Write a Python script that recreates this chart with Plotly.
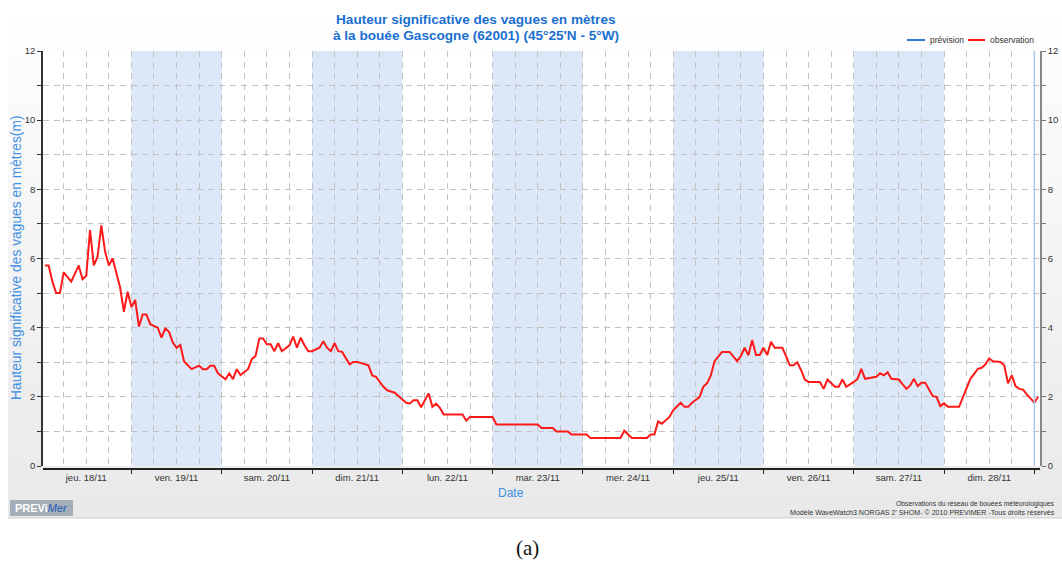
import pandas as pd
import plotly.graph_objects as go

# Observations horaires (heures depuis le 18/11/2010 00:00) et hauteur significative (m)
heures = [1, 2, 3, 4, 5, 6, 8, 10, 11, 12, 13, 14, 15, 16, 17, 18, 19, 20, 21, 22,
          23, 24, 25, 26, 27, 28, 29, 31, 32, 33, 34, 35, 36, 37, 38, 40, 42, 43, 44, 45,
          46, 47, 49, 50, 51, 52, 53, 55, 56, 57, 58, 59, 60, 61, 62, 63, 64, 66, 67, 68,
          69, 70, 71, 72, 74, 75, 76, 77, 78, 79, 80, 82, 83, 84, 86, 87, 88, 89, 91, 92,
          94, 96, 97, 98, 99, 100, 101, 102, 103, 104, 105, 106, 107, 112, 113, 114, 120, 121, 132, 133,
          136, 137, 140, 141, 145, 146, 154, 155, 156, 157, 161, 162, 163, 164, 165, 167, 168, 169, 170, 171,
          172, 173, 175, 176, 177, 178, 179, 181, 183, 185, 186, 187, 188, 189, 190, 191, 192, 193, 194, 195,
          197, 198, 199, 200, 201, 202, 203, 204, 207, 208, 209, 211, 212, 213, 214, 216, 217, 218, 219, 222,
          223, 224, 225, 226, 228, 229, 230, 231, 232, 233, 234, 235, 237, 238, 239, 240, 241, 244, 245, 247,
          249, 250, 251, 252, 253, 255, 256, 257, 258, 259, 260, 261, 262, 264, 265]
hauteur = [5.80, 5.80, 5.33, 5.00, 5.00, 5.60, 5.33, 5.80, 5.40, 5.50, 6.82, 5.80, 6.05, 6.96, 6.20, 5.80, 6.00, 5.57, 5.16, 4.46,
           5.04, 4.60, 4.80, 4.03, 4.38, 4.38, 4.10, 4.00, 3.71, 3.98, 3.88, 3.57, 3.42, 3.50, 3.02, 2.80, 2.90, 2.80, 2.80, 2.90,
           2.90, 2.68, 2.51, 2.68, 2.51, 2.80, 2.63, 2.80, 3.09, 3.18, 3.69, 3.69, 3.52, 3.52, 3.32, 3.55, 3.32, 3.49, 3.74, 3.42,
           3.71, 3.49, 3.32, 3.32, 3.42, 3.61, 3.42, 3.32, 3.55, 3.32, 3.30, 2.94, 3.01, 3.01, 2.94, 2.91, 2.62, 2.58, 2.29, 2.19,
           2.12, 1.94, 1.83, 1.81, 1.90, 1.90, 1.70, 1.90, 2.10, 1.71, 1.80, 1.68, 1.49, 1.49, 1.31, 1.42, 1.42, 1.20, 1.20, 1.10,
           1.10, 1.00, 1.00, 0.91, 0.91, 0.81, 0.81, 1.02, 0.91, 0.81, 0.81, 0.91, 0.91, 1.29, 1.22, 1.42, 1.61, 1.71, 1.83, 1.71,
           1.71, 1.83, 1.99, 2.29, 2.39, 2.62, 3.03, 3.30, 3.30, 3.03, 3.18, 3.42, 3.20, 3.64, 3.21, 3.21, 3.42, 3.21, 3.59, 3.42,
           3.42, 3.18, 2.91, 2.91, 3.00, 2.77, 2.50, 2.43, 2.43, 2.23, 2.50, 2.29, 2.29, 2.50, 2.29, 2.43, 2.52, 2.81, 2.52, 2.58,
           2.68, 2.62, 2.71, 2.52, 2.50, 2.36, 2.23, 2.33, 2.52, 2.31, 2.41, 2.41, 2.02, 2.00, 1.73, 1.81, 1.71, 1.71, 1.97, 2.52,
           2.81, 2.84, 2.94, 3.11, 3.03, 3.01, 2.91, 2.39, 2.62, 2.31, 2.23, 2.21, 2.07, 1.83, 2.00]

jours = ["jeu. 18/11", "ven. 19/11", "sam. 20/11", "dim. 21/11", "lun. 22/11", "mar. 23/11",
         "mer. 24/11", "jeu. 25/11", "ven. 26/11", "sam. 27/11", "dim. 28/11"]
jours_ombres = [1, 3, 5, 7, 9]

debut = pd.Timestamp("2010-11-18 00:00")
temps = debut + pd.to_timedelta(heures, unit="h")
midis = [debut + pd.Timedelta(days=i, hours=12) for i in range(len(jours))]
minuits = [debut + pd.Timedelta(days=i) for i in range(len(jours) + 1)]
x_min = debut + pd.Timedelta(hours=0.5)
x_max = debut + pd.Timedelta(hours=265.5)
maintenant = debut + pd.Timedelta(days=11)

W, H = 1062, 561
ML, MR, MT, MB = 43, 22, 51, 92
PW, PH = W - ML - MR, H - MT - MB


def fx(p):
    return (p - ML) / PW


def fy(p):
    return (H - MB - p) / PH


FONT = "Liberation Sans, Arial, sans-serif"
BLEU = "#1b6fd1"
GRILLE = "#c2c2c2"

fig = go.Figure()

fig.add_trace(go.Scatter(x=temps, y=hauteur, mode="lines", name="observation",
                         line=dict(color="#ff1a1a", width=2), showlegend=False,
                         xaxis="x", yaxis="y"))
fig.add_trace(go.Scatter(x=[], y=[], mode="lines", name="prévision",
                         line=dict(color="#2c7bd0", width=2), showlegend=False,
                         xaxis="x2", yaxis="y2"))

shapes = []
# fond dégradé du cadre
n = 26
for i in range(n):
    y0 = i * 518 / n
    y1 = (i + 1) * 518 / n
    t = (i + 0.5) / n
    c = int(round(255 - 22 * t))
    shapes.append(dict(type="rect", xref="paper", yref="paper", layer="below",
                       x0=fx(8), x1=fx(1062), y0=fy(y1), y1=fy(y0),
                       fillcolor=f"rgb({c},{c},{c})", line=dict(width=0)))
shapes.append(dict(type="line", xref="paper", yref="paper", layer="below",
                   x0=fx(8), x1=fx(1062), y0=fy(518), y1=fy(518),
                   line=dict(color="#cfcfcf", width=1)))
# zone de tracé blanche
shapes.append(dict(type="rect", xref="paper", yref="paper", layer="below",
                   x0=0, x1=1, y0=3 / PH, y1=1, fillcolor="white", line=dict(width=0)))
# jours ombrés
for i in jours_ombres:
    shapes.append(dict(type="rect", xref="x", yref="y", layer="below",
                       x0=minuits[i], x1=minuits[i + 1], y0=0, y1=12,
                       fillcolor="#dce8f7", line=dict(width=0)))
# ligne de l'instant présent
shapes.append(dict(type="line", xref="x", yref="y", x0=maintenant, x1=maintenant,
                   y0=0, y1=12, line=dict(color="#a9c9ee", width=1.5)))
# légende
shapes.append(dict(type="line", xref="paper", yref="paper", x0=fx(907), x1=fx(925),
                   y0=fy(40), y1=fy(40), line=dict(color="#2c7bd0", width=2)))
shapes.append(dict(type="line", xref="paper", yref="paper", x0=fx(968), x1=fx(985),
                   y0=fy(40), y1=fy(40), line=dict(color="#ff1a1a", width=2)))
# logo
shapes.append(dict(type="rect", xref="paper", yref="paper", x0=fx(10), x1=fx(73),
                   y0=fy(516), y1=fy(500), fillcolor="#a4adb8", line=dict(width=0)))


def texte(t, x, y, size, color="#333", xanchor="center", family=FONT, **kw):
    return dict(text=t, x=fx(x), y=fy(y), xref="paper", yref="paper", showarrow=False,
                font=dict(family=family, size=size, color=color),
                xanchor=xanchor, yanchor="middle", **kw)


annotations = [
    texte("<b>Hauteur significative des vagues en mètres</b>", 476, 20, 13.6, BLEU),
    texte("<b>à la bouée Gascogne (62001) (45°25'N - 5°W)</b>", 476, 35, 13.6, BLEU),
    texte("Hauteur significative des vagues en mètres(m)", 16, 258, 13.8, "#3d8fe3",
          textangle=-90),
    texte("Date", 511, 493, 12, "#3d8fe3"),
    texte("prévision", 928, 40, 8.5, xanchor="left"),
    texte("observation", 988, 40, 8.5, xanchor="left"),
    texte("Observations du réseau de bouées météorologiques", 1057, 504, 6.8, xanchor="right"),
    texte("Modèle WaveWatch3 NORGAS 2' SHOM- © 2010 PREVIMER -Tous droits réservés",
          1057, 513, 7.1, xanchor="right"),
    texte("<b>PREVi</b><i><span style='color:#1f5fb4'>Mer</span></i>", 41.5, 508, 11, "white"),
    texte("(a)", 527, 548, 21, "#111", family="Liberation Serif, DejaVu Serif, serif"),
]

fig.update_layout(
    width=W, height=H,
    margin=dict(l=ML, r=MR, t=MT, b=MB, pad=0, autoexpand=False),
    autosize=False,
    paper_bgcolor="white", plot_bgcolor="rgba(0,0,0,0)",
    showlegend=False,
    font=dict(family=FONT, size=9.5, color="#333"),
    shapes=shapes, annotations=annotations,
    xaxis=dict(type="date", range=[x_min, x_max], tickmode="linear", automargin=False,
               tick0=debut, dtick=6 * 3600 * 1000, showgrid=True, gridcolor=GRILLE,
               griddash="6px,5px", gridwidth=1, showticklabels=False, ticks="",
               showline=False, zeroline=False, anchor="y"),
    xaxis2=dict(type="date", range=[x_min, x_max], overlaying="x", anchor="free",
                position=0, side="bottom", showline=True, linecolor="#222", linewidth=1.5,
                tickmode="array", tickvals=midis, ticktext=jours, ticks="", automargin=False,
                showgrid=False, zeroline=False,
                tickfont=dict(family=FONT, size=9.5, color="#333"),
                minor=dict(tickmode="array", tickvals=minuits, ticks="outside",
                           ticklen=4, tickcolor="#222", tickwidth=1, showgrid=False)),
    yaxis=dict(range=[0, 12], domain=[3 / PH, 1], tickmode="linear", tick0=0, dtick=2,
               showgrid=True, gridcolor=GRILLE, griddash="6px,5px", gridwidth=1,
               ticks="outside", ticklen=4, tickcolor="#333", showline=True,
               linecolor="#333", linewidth=1.5, zeroline=False, automargin=False,
               tickfont=dict(family=FONT, size=9.5, color="#333"),
               minor=dict(dtick=1, showgrid=True, gridcolor=GRILLE, griddash="6px,5px",
                          ticks="outside", ticklen=4, tickcolor="#333")),
    yaxis2=dict(range=[0, 12], overlaying="y", side="right", anchor="x2",
                tickmode="linear", tick0=0, dtick=2, showgrid=False, ticks="outside",
                ticklen=4, tickcolor="#777", showline=True, linecolor="#888",
                linewidth=1.5, zeroline=False, automargin=False,
                tickfont=dict(family=FONT, size=9.5, color="#333"),
                minor=dict(dtick=1, ticks="outside", ticklen=4, tickcolor="#777")),
)

fig.write_html("out.html")
